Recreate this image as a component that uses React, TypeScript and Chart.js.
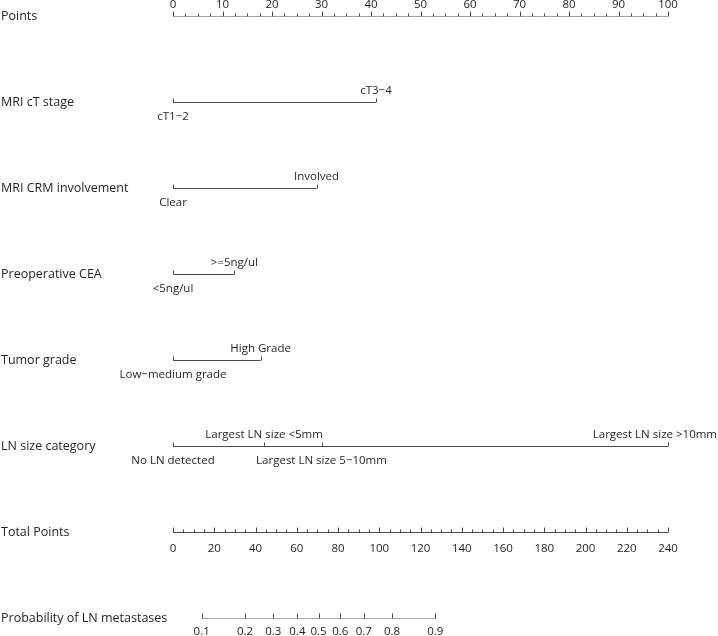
import React, { useEffect, useRef } from "react";
import { Chart, registerables } from "chart.js";

Chart.register(...registerables);

const rowLabels = [
  "Points",
  "MRI cT stage",
  "MRI CRM involvement",
  "Preoperative CEA",
  "Tumor grade",
  "LN size category",
  "Total Points",
  "Probability of LN metastases",
];

const pointsTicks = [0, 10, 20, 30, 40, 50, 60, 70, 80, 90, 100];
const pointsMinorStep = 2.5;

const ctLevels = ["cT1\u22122", "cT3\u22124"];
const ctPoints = [0, 41];
const crmLevels = ["Clear", "Involved"];
const crmPoints = [0, 29];
const ceaLevels = ["<5ng/ul", ">=5ng/ul"];
const ceaPoints = [0, 12.4];
const gradeLevels = ["Low\u2212medium grade", "High Grade"];
const gradePoints = [0, 17.7];
const lnLevels = [
  "No LN detected",
  "Largest LN size <5mm",
  "Largest LN size 5\u221210mm",
  "Largest LN size >10mm",
];
const lnPoints = [0, 18.4, 30, 100];

const totalTicks = [0, 20, 40, 60, 80, 100, 120, 140, 160, 180, 200, 220, 240];
const totalMinorStep = 5;

const probTicks = [0.1, 0.2, 0.3, 0.4, 0.5, 0.6, 0.7, 0.8, 0.9];
const probTotalPoints = [13.9, 34.9, 48.6, 60.3, 70.6, 81.1, 92.5, 106.2, 127.2];

const variables = [
  { row: 1, levels: ctLevels, points: ctPoints },
  { row: 2, levels: crmLevels, points: crmPoints },
  { row: 3, levels: ceaLevels, points: ceaPoints },
  { row: 4, levels: gradeLevels, points: gradePoints },
  { row: 5, levels: lnLevels, points: lnPoints },
];

const LINE = "#4a4a4a";
const TEXT = "#231f20";
const FONT = "'Open Sans', 'Noto Sans', sans-serif";
const W = 718;
const H = 636;

export default function App() {
  const ref = useRef<HTMLCanvasElement | null>(null);

  useEffect(() => {
    const canvas = ref.current;
    if (!canvas) return;
    document.body.style.margin = "0";

    const lineDs = (data: { x: number; y: number }[], xAxisID = "x") => ({
      data,
      xAxisID,
      borderColor: LINE,
      borderWidth: 1,
      pointRadius: 0,
      fill: false,
      tension: 0,
    });

    const datasets: any[] = [
      lineDs([
        { x: pointsTicks[0], y: 0 },
        { x: pointsTicks[pointsTicks.length - 1], y: 0 },
      ]),
      ...variables.map((v) =>
        lineDs([
          { x: Math.min(...v.points), y: v.row },
          { x: Math.max(...v.points), y: v.row },
        ])
      ),
      lineDs(
        [
          { x: totalTicks[0], y: 6 },
          { x: totalTicks[totalTicks.length - 1], y: 6 },
        ],
        "xTotal"
      ),
      lineDs(
        [
          { x: probTotalPoints[0], y: 7 },
          { x: probTotalPoints[probTotalPoints.length - 1], y: 7 },
        ],
        "xTotal"
      ),
    ];

    const nomoPlugin = {
      id: "nomo",
      afterDatasetsDraw(chart: any) {
        const ctx = chart.ctx as CanvasRenderingContext2D;
        const xs = chart.scales.x;
        const xt = chart.scales.xTotal;
        const ys = chart.scales.y;
        const px = (v: number, s: any) => Math.round(s.getPixelForValue(v)) + 0.5;
        const rowY = (r: number) => ys.getPixelForValue(r);

        ctx.save();
        ctx.strokeStyle = LINE;
        ctx.lineWidth = 1;
        const tick = (x: number, y: number, len: number) => {
          ctx.beginPath();
          ctx.moveTo(x, y);
          ctx.lineTo(x, y - len);
          ctx.stroke();
        };
        const label = (text: string, cx: number, y: number) => {
          const w = ctx.measureText(text).width;
          let x = cx;
          if (x + w / 2 > W - 1) x = W - 1 - w / 2;
          if (x - w / 2 < 1) x = 1 + w / 2;
          ctx.fillText(text, x, y);
        };

        // row labels
        ctx.fillStyle = TEXT;
        ctx.font = `12.5px ${FONT}`;
        ctx.textAlign = "left";
        ctx.textBaseline = "middle";
        rowLabels.forEach((lab, i) => ctx.fillText(lab, 1, rowY(i)));

        ctx.font = `11.5px ${FONT}`;
        ctx.textAlign = "center";

        // Points axis
        const y0 = rowY(0);
        const pMin = pointsTicks[0];
        const pMax = pointsTicks[pointsTicks.length - 1];
        for (let v = pMin; v <= pMax + 1e-9; v += pointsMinorStep) {
          const major = pointsTicks.some((t) => Math.abs(t - v) < 1e-6);
          tick(px(v, xs), y0, major ? 5 : 3);
        }
        pointsTicks.forEach((t) => ctx.fillText(String(t), xs.getPixelForValue(t), y0 - 12));

        // variables
        variables.forEach((v) => {
          const y = rowY(v.row);
          v.points.forEach((p, i) => {
            tick(px(p, xs), y, 4);
            const above = i % 2 === 1;
            label(v.levels[i], xs.getPixelForValue(p), above ? y - 12 : y + 14);
          });
        });

        // Total points
        const y6 = rowY(6);
        const tMin = totalTicks[0];
        const tMax = totalTicks[totalTicks.length - 1];
        for (let v = tMin; v <= tMax + 1e-9; v += totalMinorStep) {
          const major = totalTicks.some((t) => Math.abs(t - v) < 1e-6);
          tick(px(v, xt), y6, major ? 5 : 3);
        }
        totalTicks.forEach((t) => ctx.fillText(String(t), xt.getPixelForValue(t), y6 + 16));

        // Probability
        const y7 = rowY(7);
        probTotalPoints.forEach((tp, i) => {
          tick(px(tp, xt), y7, 5);
          ctx.fillText(String(probTicks[i]), xt.getPixelForValue(tp), y7 + 13);
        });

        ctx.restore();
      },
    };

    const chart = new Chart(canvas, {
      type: "line",
      data: { datasets },
      options: {
        animation: false,
        responsive: false,
        maintainAspectRatio: false,
        layout: { padding: { left: 173, right: 50, top: 16.5, bottom: 17.5 } },
        plugins: { legend: { display: false }, tooltip: { enabled: false } },
        events: [],
        scales: {
          x: { type: "linear", min: 0, max: 100, display: false },
          xTotal: { type: "linear", min: 0, max: 240, display: false },
          y: { type: "linear", min: 0, max: 7, reverse: true, display: false },
        },
      },
      plugins: [nomoPlugin],
    });

    return () => chart.destroy();
  }, []);

  return (
    <div style={{ position: "absolute", left: 0, top: 0, width: W, height: H, background: "#fff" }}>
      <canvas ref={ref} width={W} height={H} style={{ display: "block" }} />
    </div>
  );
}
